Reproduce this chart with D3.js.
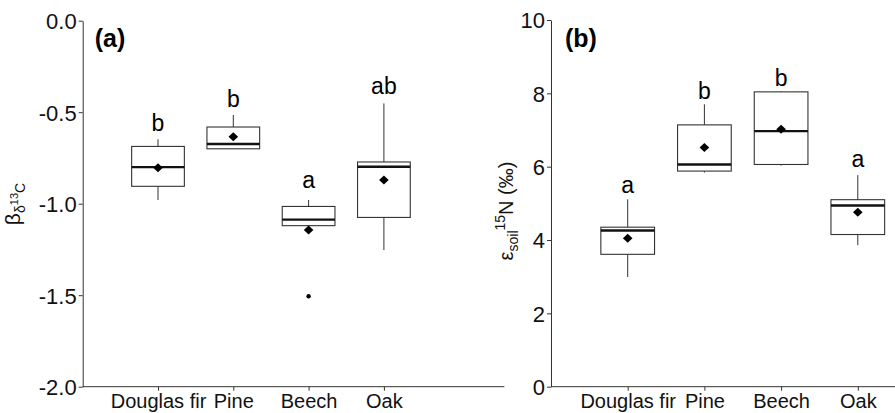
<!DOCTYPE html>
<html>
<head>
<meta charset="utf-8">
<script src="https://cdn.jsdelivr.net/npm/d3@7"></script>
<style>
  body { margin: 0; background: #fff; }
  svg { display: block; font-family: "Liberation Sans", Arial, sans-serif; }
  .axis path, .axis line { stroke: #333; }
  .axis text { fill: #111; }
</style>
</head>
<body>
<svg id="chart" width="895" height="413"></svg>
<script>
// categories shared by both panels
var categories = ["Douglas fir", "Pine", "Beech", "Oak"]

// panel (a): beta delta13C
var betaTicks = [0, -0.5, -1.0, -1.5, -2.0]
var betaLow = [-0.98, -0.70, -1.12, -1.253]
var betaQ1 = [-0.905, -0.70, -1.12, -1.075]
var betaMed = [-0.80, -0.674, -1.087, -0.798]
var betaQ3 = [-0.687, -0.581, -1.015, -0.772]
var betaHigh = [-0.648, -0.515, -0.98, -0.452]
var betaMean = [-0.803, -0.634, -1.144, -0.871]
var betaOutCat = ["Beech"]
var betaOutVal = [-1.506]
var betaLetters = ["b", "b", "a", "ab"]
var betaLetterPos = [-0.60, -0.47, -0.916, -0.402]

// panel (b): epsilon soil 15N
var epsTicks = [0, 2, 4, 6, 8, 10]
var epsLow = [2.99, 5.84, 6.03, 3.86]
var epsQ1 = [3.61, 5.88, 6.06, 4.15]
var epsMed = [4.26, 6.06, 6.97, 4.94]
var epsQ3 = [4.35, 7.14, 8.04, 5.10]
var epsHigh = [5.11, 7.70, 8.05, 5.77]
var epsMean = [4.05, 6.52, 7.02, 4.76]
var epsOutCat = []
var epsOutVal = []
var epsLetters = ["a", "b", "b", "a"]
var epsLetterPos = [5.29, 7.85, 8.2, 5.98]

var svg = d3.select("#chart")

function drawPanel(opt) {
  var g = svg.append("g")

  // x: point scale for the category centres, axis line drawn to panel edges
  var x = d3.scalePoint()
    .domain(categories)
    .range([opt.x0 + opt.step, opt.x0 + opt.step * 4])
  var y = d3.scaleLinear()
    .domain(opt.domain)
    .range([opt.bottom, opt.top])

  var boxW = opt.step * 0.7

  var rows = categories.map((c, i) => ({
    cat: c, low: opt.low[i], q1: opt.q1[i], med: opt.med[i], q3: opt.q3[i],
    high: opt.high[i], mean: opt.mean[i], letter: opt.letters[i], lpos: opt.lpos[i]
  }))

  // y axis
  var yAxis = d3.axisLeft(y)
    .tickValues(opt.ticks)
    .tickFormat(opt.fmt)
    .tickSize(4)
    .tickSizeOuter(0)
  g.append("g")
    .attr("class", "axis")
    .attr("transform", `translate(${opt.x0},0)`)
    .call(yAxis)
    .selectAll("text")
    .style("font-size", "22px")
    .attr("x", -6)
    .attr("dy", "0.36em")

  // x axis
  var xAxis = d3.axisBottom(x).tickSize(4).tickSizeOuter(0)
  var xg = g.append("g")
    .attr("class", "axis")
    .attr("transform", `translate(0,${opt.bottom})`)
    .call(xAxis)
  xg.select(".domain").remove()
  xg.selectAll("text")
    .style("font-size", "20px")
    .attr("y", 7)
    .attr("dy", "0.71em")
  xg.append("line")
    .attr("x1", opt.x0)
    .attr("x2", opt.x0 + opt.step * 5.6)
    .attr("stroke", "#333")

  // whiskers
  g.selectAll(".whisker")
    .data(rows)
    .enter()
    .append("line")
    .attr("class", "whisker")
    .attr("x1", d => x(d.cat))
    .attr("x2", d => x(d.cat))
    .attr("y1", d => y(d.low))
    .attr("y2", d => y(d.high))
    .attr("stroke", "#333")
    .attr("stroke-width", 1)

  // boxes
  g.selectAll(".box")
    .data(rows)
    .enter()
    .append("rect")
    .attr("class", "box")
    .attr("x", d => x(d.cat) - boxW / 2)
    .attr("y", d => y(d.q3))
    .attr("width", boxW)
    .attr("height", d => y(d.q1) - y(d.q3))
    .attr("fill", "#fff")
    .attr("stroke", "#333")
    .attr("stroke-width", 1.1)

  // medians
  g.selectAll(".median")
    .data(rows)
    .enter()
    .append("line")
    .attr("class", "median")
    .attr("x1", d => x(d.cat) - boxW / 2)
    .attr("x2", d => x(d.cat) + boxW / 2)
    .attr("y1", d => y(d.med))
    .attr("y2", d => y(d.med))
    .attr("stroke", "#111")
    .attr("stroke-width", 2.4)

  // means (diamonds)
  g.selectAll(".mean")
    .data(rows)
    .enter()
    .append("path")
    .attr("class", "mean")
    .attr("d", d => {
      var cx = x(d.cat), cy = y(d.mean)
      return `M${cx},${cy - 4.5}L${cx + 4.8},${cy}L${cx},${cy + 4.5}L${cx - 4.8},${cy}Z`
    })
    .attr("fill", "#000")

  // outliers
  g.selectAll(".outlier")
    .data(opt.outCat.map((c, i) => ({ cat: c, v: opt.outVal[i] })))
    .enter()
    .append("circle")
    .attr("class", "outlier")
    .attr("cx", d => x(d.cat))
    .attr("cy", d => y(d.v))
    .attr("r", 2.2)
    .attr("fill", "#000")

  // significance letters
  g.selectAll(".letter")
    .data(rows)
    .enter()
    .append("text")
    .attr("class", "letter")
    .attr("x", d => x(d.cat))
    .attr("y", d => y(d.lpos))
    .attr("text-anchor", "middle")
    .style("font-size", "23px")
    .attr("fill", "#000")
    .text(d => d.letter)

  // panel tag
  g.append("text")
    .attr("x", opt.x0 + opt.tagDx)
    .attr("y", 47)
    .style("font-size", "25px")
    .style("font-weight", "bold")
    .text(opt.tag)

  return g
}

drawPanel({
  x0: 82.7, step: 75.3, top: 20.7, bottom: 386.7, domain: [-2, 0],
  ticks: betaTicks, fmt: d => d.toFixed(1),
  low: betaLow, q1: betaQ1, med: betaMed, q3: betaQ3, high: betaHigh, mean: betaMean,
  outCat: betaOutCat, outVal: betaOutVal, letters: betaLetters, lpos: betaLetterPos,
  tag: "(a)", tagDx: 12
})

drawPanel({
  x0: 551, step: 76.7, top: 20, bottom: 386.7, domain: [0, 10],
  ticks: epsTicks, fmt: d => String(d),
  low: epsLow, q1: epsQ1, med: epsMed, q3: epsQ3, high: epsHigh, mean: epsMean,
  outCat: epsOutCat, outVal: epsOutVal, letters: epsLetters, lpos: epsLetterPos,
  tag: "(b)", tagDx: 14
})

// y axis titles
var t1 = svg.append("text")
  .attr("transform", "translate(20,204) rotate(-90)")
  .attr("text-anchor", "middle")
  .style("font-size", "21px")
  .attr("fill", "#111")
t1.append("tspan").text("β")
t1.append("tspan").attr("dy", 5).style("font-size", "14px").text("δ")
t1.append("tspan").attr("dy", -7).style("font-size", "11px").text("13")
t1.append("tspan").attr("dy", 7).style("font-size", "14px").text("C")

var t2 = svg.append("text")
  .attr("transform", "translate(513,211) rotate(-90)")
  .attr("text-anchor", "middle")
  .style("font-size", "20px")
  .attr("fill", "#111")
t2.append("tspan").text("ε")
t2.append("tspan").attr("dy", 5).style("font-size", "14px").text("soil")
t2.append("tspan").attr("dy", -13).style("font-size", "14px").text("15")
t2.append("tspan").attr("dy", 8).text("N (‰)")
</script>
</body>
</html>
